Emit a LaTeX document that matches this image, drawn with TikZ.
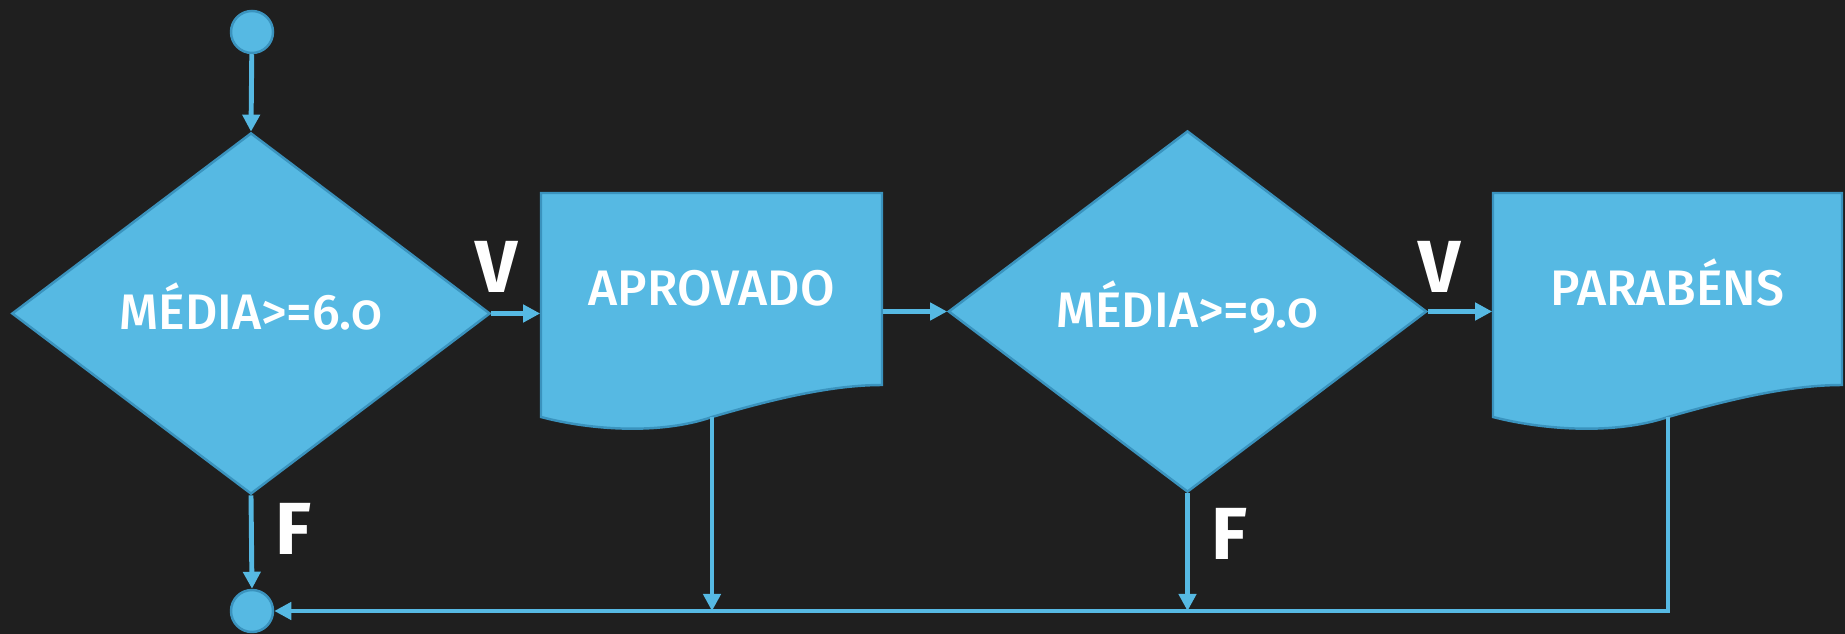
\documentclass[tikz,border=0pt]{standalone}
\usepackage{fontspec}
\setmainfont{Fira Sans}[Numbers=OldStyle,UprightFont={* Medium},BoldFont={* Bold}]
\usetikzlibrary{shapes.geometric,arrows.meta}

\definecolor{board}{HTML}{1F1F1F}
\definecolor{sky}{HTML}{56B9E3}
\definecolor{skyline}{HTML}{3A93BE}

\tikzset{
  flow/.style={draw=sky,line width=1.4pt,-{Triangle[length=0.17cm,width=0.17cm]}},
  cond/.style={diamond,draw=skyline,line width=0.7pt,fill=sky,minimum width=4.78cm,minimum height=3.61cm,
    inner sep=0pt,text=white,font=\fontsize{14.2}{16}\selectfont,text height=0.32cm,text depth=0pt},
  dot/.style={circle,draw=skyline,line width=0.7pt,fill=sky,minimum size=0.42cm,inner sep=0pt},
  doctext/.style={minimum height=1.92cm,inner sep=0pt,text=white,font=\fontsize{14.2}{16}\selectfont,
    text height=0.32cm,text depth=0pt},
  lbl/.style={inner sep=0pt,text=white,font=\fontsize{21}{24}\selectfont\bfseries,text height=0.48cm,text depth=0pt}
}

% document shape: name, left x, top y, width
\newcommand{\docshape}[4]{%
  \begin{scope}[shift={(#2,#3)},xscale=#4/341]
    \draw[skyline,line width=0.7pt,fill=sky] (0,0) -- (341,0) -- (341,192)
      .. controls (289,192) and (229,207) .. (171,224)
      .. controls (119,242) and (49,237) .. (0,224) -- cycle;
    \coordinate (#1-tail) at (171,224);
  \end{scope}}

\begin{document}
\begin{tikzpicture}[x=0.01cm,y=-0.01cm]
  \fill[board] (0,0) rectangle (1845,634);
  \useasboundingbox (0,0) rectangle (1845,634);

  \node[dot] (start) at (252,32) {};
  \node[dot] (stop) at (252,611) {};

  \node[cond] (D1) at (251,313.5) {MÉDIA>=6.0};
  \node[cond] (D2) at (1187.5,311.5) {MÉDIA>=9.0};

  \docshape{aprov}{541}{193}{341}
  \node[doctext,minimum width=3.41cm] (aprov) at (711.5,289) {APROVADO};
  \docshape{parab}{1493}{193}{349}
  \node[doctext,minimum width=3.49cm] (parab) at (1667.5,289) {PARABÉNS};

  \foreach \t/\x/\y [count=\n] in {V/497/268,F/293/530,V/1440/268,F/1229/535}
    \node[lbl] (L\n) at (\x,\y) {\t};

  \draw[flow] (start) -- (D1.north);
  \draw[flow] (D1.south) -- (stop.north);
  \draw[flow] (D1.east) -- (D1.east -| aprov.west);
  \draw[flow] (D2.west -| aprov.east) -- (D2.west);
  \draw[flow] (D2.east) -- (D2.east -| parab.west);
  \draw[flow] (aprov-tail) -- (aprov-tail |- stop);
  \draw[flow] (D2.south) -- (D2.south |- stop);
  \draw[flow] (parab-tail) -- (parab-tail |- stop) -- (stop.east);
\end{tikzpicture}
\end{document}
